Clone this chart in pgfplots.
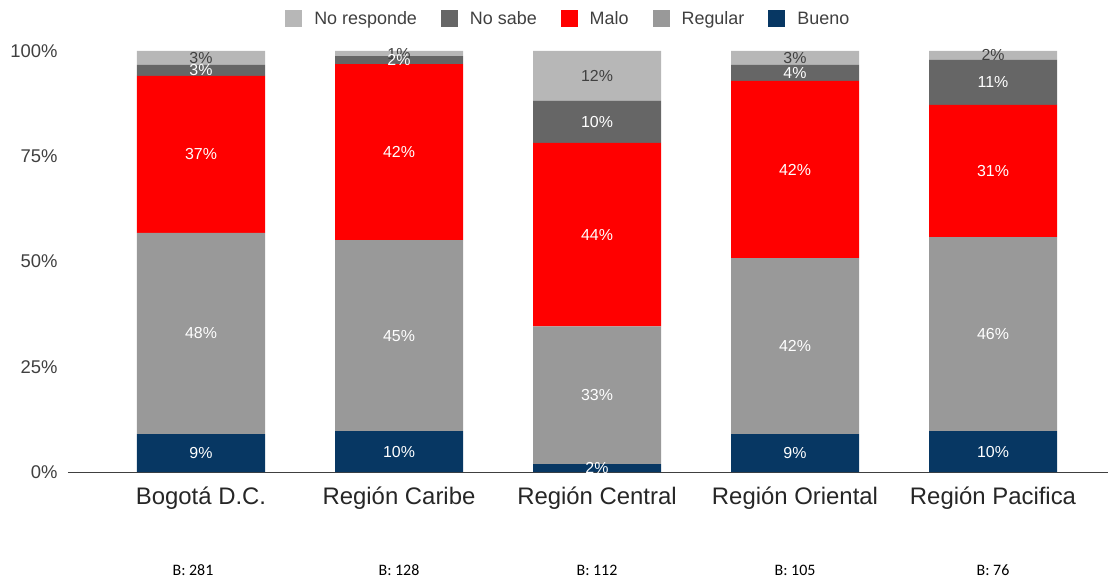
\documentclass[border=0pt]{standalone}
\usepackage{pgfplots}
\pgfplotsset{compat=1.18}
\usepackage{pgfplotstable}
\usepackage{fontspec}
\setmainfont{Liberation Sans}
\newfontfamily\calibri{Carlito}
\definecolor{bueno}{HTML}{073763}
\definecolor{regular}{HTML}{999999}
\definecolor{malo}{HTML}{FF0000}
\definecolor{nosabe}{HTML}{666666}
\definecolor{noresp}{HTML}{B7B7B7}

\pgfplotstableread{
x bueno regular malo nosabe noresp
0 9.0 47.8 37.3 2.6 3.3
1 9.7 45.4 41.8 1.9 1.2
2 1.9 32.7 43.6 10.0 11.8
3 9.0 41.8 42.1 3.8 3.3
4 9.7 46.1 31.4 10.7 2.1
}\datatable

\begin{document}
\begin{tikzpicture}
\begin{axis}[
 scale only axis, width=1040bp, height=421bp,
 xmin=-0.6717, xmax=4.581, ymin=0, ymax=100,
 ybar stacked, bar width=128bp,
 axis x line*=bottom, axis y line*=left,
 y axis line style={draw=none},
 x axis line style={draw=black!75, line width=0.8bp, -},
 major tick length=0pt,
 xtick=data,
 xticklabels={Bogotá D.C., Región Caribe, Región Central, Región Oriental, Región Pacifica},
 x tick label style={font=\fontsize{24}{28}\selectfont, text=black!85, yshift=-11bp},
 ytick={0,25,50,75,100},
 yticklabel={\pgfmathprintnumber{\tick}\%},
 y tick label style={font=\fontsize{18.5}{21}\selectfont, text=black!75, xshift=-7bp},
 /pgf/number format/assume math mode=true,
 point meta=explicit,
 nodes near coords={\pgfmathprintnumber[fixed,precision=0]{\pgfplotspointmeta}\%},
 every node near coord/.append style={font=\fontsize{16}{19}\selectfont, text=white, anchor=center},
 legend columns=5, reverse legend,
 legend style={draw=none, at={(0.481,1.076)}, anchor=center, font=\fontsize{18}{21}\selectfont, text=black!75,
   /tikz/every odd column/.append style={column sep=10bp},
   /tikz/every even column/.append style={column sep=22bp}},
 legend image code/.code={\fill[#1] (0bp,-8bp) rectangle (17bp,9bp);},
 clip=false,
]
\addplot[fill=bueno, draw=none] table[x=x,y=bueno,meta=bueno]{\datatable};
\addlegendentry{Bueno}
\addplot[fill=regular, draw=none] table[x=x,y=regular,meta=regular]{\datatable};
\addlegendentry{Regular}
\addplot[fill=malo, draw=none] table[x=x,y=malo,meta=malo]{\datatable};
\addlegendentry{Malo}
\addplot[fill=nosabe, draw=none] table[x=x,y=nosabe,meta=nosabe]{\datatable};
\addlegendentry{No sabe}
\addplot[fill=noresp, draw=none, every node near coord/.append style={text=black!75}] table[x=x,y=noresp,meta=noresp]{\datatable};
\addlegendentry{No responde}
\node[font=\calibri\fontsize{16}{19}\selectfont, xshift=-8bp, yshift=-98bp] at (axis cs:0,0) {B: 281};
\node[font=\calibri\fontsize{16}{19}\selectfont, yshift=-98bp] at (axis cs:1,0) {B: 128};
\node[font=\calibri\fontsize{16}{19}\selectfont, yshift=-98bp] at (axis cs:2,0) {B: 112};
\node[font=\calibri\fontsize{16}{19}\selectfont, yshift=-98bp] at (axis cs:3,0) {B: 105};
\node[font=\calibri\fontsize{16}{19}\selectfont, yshift=-98bp] at (axis cs:4,0) {B: 76};
\coordinate (ll) at (rel axis cs:0,0);
\end{axis}
\pgfresetboundingbox
\path[use as bounding box] (ll) ++(-68bp,-106bp) rectangle ++(1111bp,578bp);
\end{tikzpicture}
\end{document}
